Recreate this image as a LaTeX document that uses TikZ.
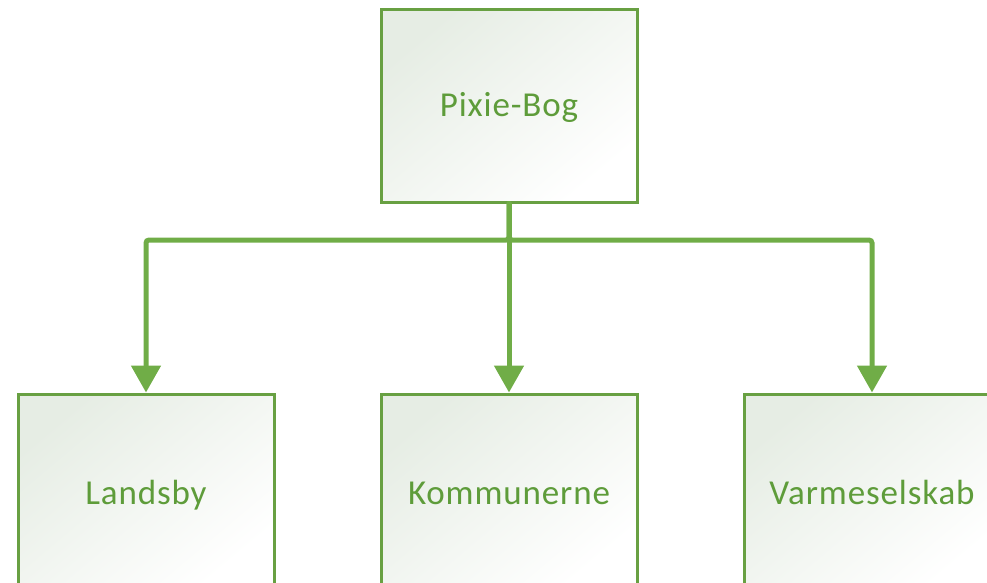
\documentclass[tikz,border=0pt]{standalone}
\usepackage{fontspec}
\setmainfont{Carlito}[LetterSpace=2.5]
\usetikzlibrary{arrows.meta}
\definecolor{boxline}{RGB}{104,160,66}
\definecolor{boxtext}{RGB}{94,156,58}
\definecolor{conncol}{RGB}{112,173,71}
\definecolor{shadetop}{RGB}{230,237,228}
\tikzset{
  orgbox/.style={draw=boxline, line width=3pt, minimum width=256pt, minimum height=192pt,
    inner sep=0pt, outer sep=1.5pt, shading=axis, top color=shadetop, middle color=white,
    bottom color=white, shading angle=40, text=boxtext, font=\fontsize{35}{40}\selectfont,
    text depth=0pt},
  toptext/.style={text height=22pt},
  bottext/.style={text height=28pt},
  conn/.style={draw=conncol, line width=5pt, rounded corners=3pt, line cap=round,
    -{Triangle[length=27pt,width=29pt]}}
}
\begin{document}
\begin{tikzpicture}[x=1pt,y=-1pt]
\useasboundingbox (0,0) rectangle (987,583);
\clip (0,0) rectangle (987,583);
\node[orgbox,toptext] (top) at (509,106) {Pixie-Bog};
\node[orgbox,bottext] (left) at (146,490) {Landsby};
\node[orgbox,bottext] (mid) at (509,490) {Kommunerne};
\node[orgbox,bottext] (right) at (872,490) {Varmeselskab};
\coordinate (j) at (509,240);
\draw[conn] (top.south) -- (j) -| (left.north);
\draw[conn] (top.south) -- (j) -| (right.north);
\draw[conn] (top.south) -- (mid.north);
\end{tikzpicture}
\end{document}
